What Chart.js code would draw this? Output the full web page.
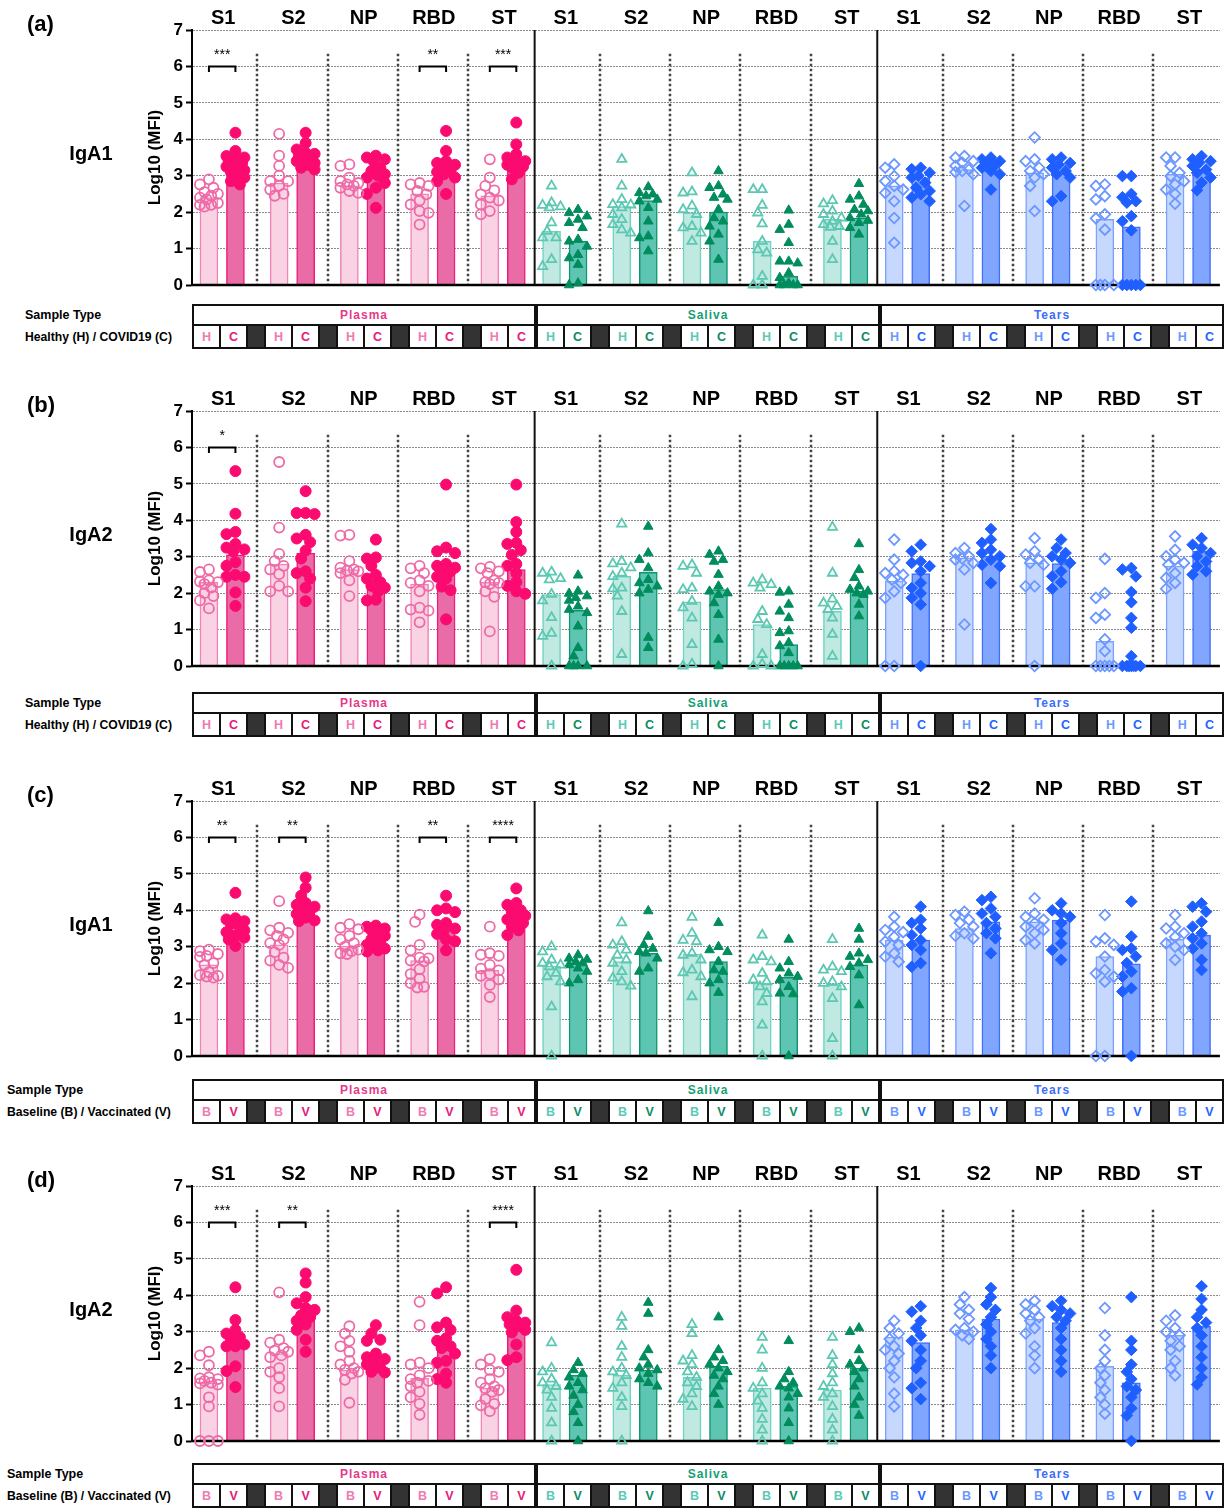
<!DOCTYPE html>
<html><head><meta charset="utf-8">
<script src="https://cdn.jsdelivr.net/npm/chart.js@4.4.1/dist/chart.umd.min.js"></script>
<style>
body{margin:0;background:#fff;width:1227px;height:1508px;position:relative;overflow:hidden;font-family:"Liberation Sans",Arial,sans-serif;}
.cv{position:absolute;left:0;}
.lbl{position:absolute;font-weight:bold;color:#000;white-space:nowrap;line-height:1;transform:translateY(-50%);}
.tbl{position:absolute;left:192px;width:1032px;height:45px;display:flex;}
.sec{flex:1 1 0;border:2px solid #111;display:flex;flex-direction:column;box-sizing:border-box;}
.hdr{height:18px;border-bottom:2px solid #111;display:flex;align-items:center;justify-content:center;font-weight:bold;font-size:12px;letter-spacing:1px;}
.row{flex:1;display:flex;}
.cell{display:flex;align-items:center;justify-content:center;font-weight:bold;font-size:12.5px;border-right:2px solid #111;flex-basis:0;}
.cell:last-child{border-right:none}
.dark{background:#333;}
</style></head>
<body>
<script>
// ---------- DATA ----------
const categories = ['S1','S2','NP','RBD','ST'];
const sampleTypes = ['Plasma','Saliva','Tears'];

// Panel (a) IgA1, Healthy vs COVID19
const aPlasmaH = [[2.9,2.76,2.67,2.55,2.5,2.45,2.4,2.35,2.25,2.2,2.15,2.2],[4.15,3.55,3.27,3.0,2.85,2.85,2.72,2.62,2.5,2.45],[3.31,3.27,2.95,2.85,2.8,2.76,2.72,2.67,2.58,2.53],[2.8,2.76,2.72,2.58,2.49,2.32,2.21,2.03,1.98,1.66],[3.45,2.95,2.72,2.6,2.49,2.4,2.32,2.21,2.03,1.94]];
const aPlasmaC = [[4.18,3.68,3.54,3.5,3.45,3.4,3.3,3.22,3.1,3.05,2.95,2.85,2.76,3.35,3.25,3.15],[4.18,3.9,3.72,3.63,3.55,3.5,3.45,3.4,3.3,3.22,3.17,3.6,3.35],[3.55,3.5,3.45,3.4,3.22,3.13,3.04,2.95,2.8,2.67,2.5,2.12,3.0],[4.23,3.68,3.4,3.3,3.22,3.13,3.04,2.95,2.85,2.5,3.35,3.1],[4.46,3.86,3.59,3.5,3.4,3.3,3.22,3.08,2.9,3.35,3.25]];
const aSalivaH = [[2.72,2.26,2.19,2.15,2.12,1.71,1.48,1.3,1.3,0.7,0.51],[3.45,2.72,2.35,2.21,2.2,2.12,1.94,1.8,1.66,1.52,1.43],[3.08,2.56,2.53,2.17,2.07,1.94,1.61,1.57,1.43,1.2],[2.62,2.62,2.19,1.98,1.68,1.2,0.97,0.88,0.24,0,0],[2.23,2.32,2.03,1.94,1.84,1.75,1.66,1.61,1.59,1.2,0.7]];
const aSalivaC = [[2.07,1.98,1.89,1.8,1.71,1.57,1.25,1.2,1.06,0.83,0.74,0.56,0.05,0],[2.69,2.53,2.49,2.44,2.35,2.3,2.12,1.75,1.34,1.29,0.93],[3.13,2.72,2.67,2.49,2.4,2.35,2.07,1.84,1.75,1.61,1.39,1.2,0.7],[2.05,1.66,1.52,1.16,0.65,0.65,0.6,0.33,0.2,0.05,0,0,0,0],[2.78,2.44,2.35,2.21,2.07,2.03,1.94,1.84,1.77,1.71,1.57,1.39]];
const aTearsH = [[3.31,3.22,2.99,2.85,2.72,2.62,2.53,2.3,1.84,1.16],[3.5,3.54,3.4,3.36,3.27,3.17,3.13,3.1,3.04,2.17],[4.05,3.45,3.4,3.22,3.13,3.04,2.95,2.72,2.03],[2.76,2.72,2.44,2.35,1.94,1.83,1.52,0,0,0,0],[3.5,3.5,3.27,3.08,2.99,2.85,2.76,2.62,2.5,2.23]];
const aTearsC = [[3.22,3.18,3.08,2.95,2.81,2.67,2.58,2.49,2.4,2.3,3.0],[3.5,3.45,3.4,3.3,3.22,3.13,3.04,2.62,3.35],[3.5,3.45,3.3,3.22,3.13,3.04,2.95,2.44,2.3,3.35],[2.99,2.99,2.5,2.41,2.3,2.26,1.89,1.75,1.5,0,0,0,0,0],[3.54,3.45,3.36,3.27,3.17,3.08,2.95,2.81,2.6,3.4]];
const aPlasmaHBar = [2.4,2.8,2.72,2.5,2.45], aPlasmaCBar = [3.25,3.5,2.95,3.2,3.3];
const aSalivaHBar = [1.47,2.15,1.98,1.2,1.8], aSalivaCBar = [1.2,2.32,2.0,0.24,1.84];
const aTearsHBar = [2.72,3.17,3.08,1.8,3.04], aTearsCBar = [2.95,3.28,3.08,1.6,3.17];
const aSig = ['***','','','**','***'];

// Panel (b) IgA2, Healthy vs COVID19
const bPlasmaH = [[2.65,2.58,2.35,2.3,2.32,2.25,2.15,2.0,1.92,1.8,1.58],[5.6,3.8,3.08,2.88,2.75,2.65,2.52,2.2,2.05,2.05],[3.6,3.58,2.88,2.7,2.65,2.62,2.6,2.55,2.35,1.92],[2.75,2.68,2.55,2.35,2.28,2.2,2.05,1.6,1.55,1.52,1.2],[2.72,2.68,2.6,2.55,2.35,2.3,2.28,2.25,2.05,1.9,0.95]];
const bPlasmaC = [[5.35,4.18,3.68,3.62,3.35,3.25,3.2,3.15,2.85,2.75,2.5,2.45,2.45,2.02,1.65],[4.8,4.2,4.2,4.17,3.6,3.5,3.4,3.17,2.95,2.6,2.55,2.4,2.15,1.78],[3.47,2.98,2.95,2.75,2.5,2.4,2.3,2.2,2.15,2.05,1.82,1.8],[4.98,3.25,3.15,3.1,2.8,2.75,2.7,2.65,2.6,2.45,2.4,2.18,2.08,1.28],[4.98,3.95,3.68,3.38,3.35,3.18,3.05,2.8,2.75,2.55,2.3,2.2,2.05,1.98]];
const bSalivaH = [[2.58,2.55,2.4,2.37,1.97,1.79,1.33,0.9,0.82,0],[3.9,2.87,2.81,2.7,2.55,2.46,2.14,2.12,1.92,1.5,0.32],[2.78,2.74,2.55,2.14,2.1,1.78,1.6,1.32,0.59,0.05,0],[2.37,2.28,2.24,2.14,1.5,1.28,1.14,0.32,0.05,0,0],[3.81,2.55,1.84,1.73,1.64,1.55,1.32,0.87,0.27]];
const bSalivaC = [[2.49,2.05,1.99,1.92,1.87,1.8,1.64,1.55,1.46,1.09,0.5,0.27,0,0,0,0],[3.83,3.1,2.92,2.69,2.37,2.28,2.19,2.1,2.0,0.78,0.5],[3.15,3.06,2.92,2.87,2.51,2.19,2.05,2.0,1.96,1.73,1.41,0.73,0],[2.05,2.02,1.69,1.5,1.32,0.96,0.91,0.64,0.55,0.36,0,0,0,0,0],[3.35,2.64,2.42,2.19,2.1,2.05,2.0,1.96,1.69,1.37]];
const bTearsH = [[3.47,2.92,2.6,2.55,2.5,2.37,2.28,2.05,1.87,0,0],[3.24,3.1,3.01,2.92,2.83,2.65,1.14,2.95],[3.51,3.15,3.06,2.92,2.83,2.78,2.19,2.19,0],[2.94,2.0,1.87,1.41,1.32,0.73,0.41,0,0,0,0,0],[3.56,3.19,3.01,2.92,2.83,2.78,2.55,2.42,2.28,2.12]];
const bTearsC = [[3.33,3.15,2.87,2.83,2.74,2.6,2.28,2.14,2.0,1.87,1.69,0],[3.76,3.47,3.38,3.19,3.1,3.01,2.92,2.78,2.74,2.28],[3.47,3.24,3.1,3.01,2.92,2.83,2.6,2.46,2.3,2.12],[2.69,2.65,2.46,2.03,1.75,1.32,1.05,0.27,0,0,0,0,0,0,0],[3.51,3.33,3.24,3.1,3.01,2.87,2.74,2.6,2.51]];
const bPlasmaHBar = [2.3,2.8,2.65,2.25,2.3], bPlasmaCBar = [3.05,3.1,2.35,2.6,2.65];
const bSalivaHBar = [1.96,2.46,1.76,1.14,1.5], bSalivaCBar = [1.53,2.57,2.1,0.59,2.05];
const bTearsHBar = [2.33,2.97,2.83,0.68,2.74], bTearsCBar = [2.54,3.01,2.81,0.11,3.15];
const bSig = ['*','','','',''];

// Panel (c) IgA1, Baseline vs Vaccinated
const cPlasmaH = [[2.92,2.88,2.8,2.75,2.72,2.55,2.5,2.3,2.22,2.18,2.2,2.15],[4.25,3.52,3.45,3.38,3.3,3.2,3.1,3.05,2.85,2.7,2.62,2.5,2.42],[3.62,3.52,3.48,3.3,3.2,3.1,3.0,2.92,2.88,2.82,2.8],[3.88,3.68,3.05,2.9,2.7,2.68,2.62,2.6,2.38,2.25,2.12,2.0,1.9,1.88],[3.55,2.82,2.78,2.75,2.5,2.4,2.35,2.25,2.2,2.1,1.95,1.62]];
const cPlasmaC = [[4.48,3.78,3.75,3.7,3.62,3.6,3.45,3.4,3.3,3.25,3.2,3.02],[4.9,4.62,4.4,4.2,4.15,4.1,4.05,4.0,3.9,3.8,3.72,3.7],[3.58,3.55,3.5,3.45,3.4,3.3,3.2,3.1,3.05,3.0,2.95,2.9,2.87],[4.4,4.05,4.0,3.95,3.65,3.6,3.5,3.45,3.35,3.2,3.15,2.9],[4.6,4.2,4.15,4.0,3.95,3.85,3.8,3.75,3.65,3.55,3.45,3.32]];
const cSalivaH = [[3.0,2.86,2.64,2.55,2.5,2.45,2.27,2.18,2.04,1.35,0],[3.66,3.14,3.05,2.91,2.77,2.64,2.55,2.32,2.14,2.04,1.92],[3.81,3.37,3.18,3.14,2.82,2.77,2.64,2.36,2.29,2.18,1.63],[3.32,2.73,2.64,2.59,2.27,2.09,2.04,1.9,1.72,1.49,0.85,0],[3.2,2.45,2.36,2.32,2.04,2.0,1.9,1.58,0.48,0]];
const cSalivaC = [[2.77,2.68,2.65,2.59,2.5,2.41,2.32,2.09,2.0,2.55],[3.98,3.28,3.05,2.95,2.86,2.82,2.68,2.41,2.32],[3.66,3.0,2.91,2.86,2.59,2.36,2.32,2.09,2.0,1.74],[3.2,2.59,2.41,2.27,2.18,2.09,1.9,1.72,1.7,0],[3.5,3.2,2.82,2.73,2.64,2.55,2.45,2.22,1.4]];
const cTearsH = [[3.82,3.55,3.46,3.4,3.27,3.14,3.05,2.82,2.73,2.59],[3.96,3.87,3.74,3.65,3.55,3.37,3.23,3.3],[4.33,3.91,3.82,3.74,3.65,3.55,3.46,3.37,3.18,3.09],[3.87,3.23,3.14,3.05,2.73,2.36,2.27,2.18,2.04,0,0],[3.87,3.55,3.5,3.37,3.27,3.09,3.0,2.91,2.64]];
const cTearsC = [[4.1,3.74,3.65,3.5,3.32,3.18,3.05,2.91,2.55,2.45],[4.37,4.28,4.05,3.91,3.82,3.65,3.5,3.37,3.23,2.82],[4.19,4.0,3.91,3.82,3.65,3.37,3.09,2.91,2.64],[4.24,3.28,2.95,2.91,2.73,2.55,2.32,2.18,1.86,1.77,0],[4.19,4.1,3.96,3.69,3.55,3.37,3.23,3.09,2.95,2.64,2.36]];
const cPlasmaHBar = [2.5,3.05,3.02,2.62,2.35], cPlasmaCBar = [3.45,4.0,3.2,3.5,3.8];
const cSalivaHBar = [2.47,2.59,2.8,2.0,1.95], cSalivaCBar = [2.54,2.82,2.59,2.16,2.5];
const cTearsHBar = [3.18,3.5,3.68,2.73,3.2], cTearsCBar = [3.18,3.68,3.73,2.53,3.32];
const cSig = ['**','**','','**','****'];

// Panel (d) IgA2, Baseline vs Vaccinated
const dPlasmaH = [[2.45,2.35,2.08,1.75,1.72,1.7,1.65,1.6,1.58,1.55,1.2,0.95,0,0,0],[4.08,2.78,2.7,2.55,2.48,2.45,2.35,2.3,2.0,1.9,1.75,1.45,0.95],[3.15,2.95,2.75,2.6,2.45,2.2,2.1,2.0,1.95,1.9,1.85,1.68,1.05],[3.82,3.18,2.15,2.1,2.0,1.8,1.7,1.65,1.6,1.5,1.35,1.2,1.02,0.72],[2.25,2.1,1.95,1.9,1.7,1.6,1.5,1.45,1.4,1.35,1.15,1.02,0.98,0.82]];
const dPlasmaC = [[4.22,3.32,3.05,2.95,2.85,2.8,2.65,2.6,2.6,2.05,1.92,1.48],[4.6,4.35,3.95,3.78,3.65,3.6,3.45,3.4,3.3,3.2,3.05,2.78,2.45],[3.18,2.95,2.78,2.75,2.4,2.3,2.25,2.2,2.1,2.0,1.9,1.88],[4.22,4.05,3.25,3.12,3.05,2.82,2.75,2.6,2.55,2.4,2.2,2.15,1.85,1.7,1.6],[4.7,3.58,3.4,3.3,3.25,3.2,3.15,3.05,2.98,2.65,2.3,2.22]];
const dSalivaH = [[2.7,2.0,1.9,1.7,1.6,1.5,1.4,1.2,0.9,0.5,0],[3.4,3.15,2.6,2.3,2.0,1.9,1.8,1.6,1.45,1.2,0.95,0],[3.2,2.95,2.35,2.2,2.1,1.9,1.75,1.6,1.5,1.3,1.15,0.95],[2.85,2.5,2.0,1.6,1.45,1.3,1.1,0.9,0.6,0.3,0],[2.85,2.35,2.1,1.85,1.6,1.5,1.3,1.2,0.95,0.6,0.3,0]];
const dSalivaC = [[2.15,1.95,1.85,1.75,1.6,1.5,1.4,1.25,1.0,0.8,0.5,0],[3.8,3.5,2.5,2.3,2.1,2.0,1.95,1.85,1.7,1.6,1.5],[3.4,2.5,2.3,2.2,2.1,2.0,1.9,1.8,1.7,1.5,1.3,1.0],[2.75,1.9,1.7,1.6,1.5,1.45,1.3,1.2,0.9,0.5,0],[3.1,3.0,2.5,2.2,2.1,2.0,1.9,1.7,1.5,1.2,1.0,0.7]];
const dTearsH = [[3.3,3.1,2.95,2.8,2.6,2.5,2.4,2.2,2.0,1.75,1.3,0.95],[3.95,3.75,3.6,3.5,3.35,3.1,3.05,3.0,2.9,2.8],[3.85,3.75,3.6,3.5,3.4,3.3,3.1,2.95,2.6,2.35,2.0],[3.65,2.9,2.5,2.2,2.0,1.8,1.6,1.4,1.2,1.0,0.75],[3.45,3.3,3.1,3.0,2.9,2.75,2.6,2.5,2.2,2.0,1.8]];
const dTearsC = [[3.7,3.55,3.3,3.1,2.9,2.75,2.5,2.2,2.0,1.6,1.45,1.15],[4.2,3.95,3.75,3.6,3.4,3.2,3.0,2.8,2.6,2.35,2.0],[3.85,3.7,3.6,3.5,3.4,3.3,3.1,2.8,2.5,2.2,1.9],[3.95,2.75,2.5,2.1,1.9,1.7,1.5,1.4,1.2,0.9,0.7,0],[4.25,3.9,3.6,3.4,3.25,3.1,2.9,2.6,2.3,2.0,1.75,1.55]];
const dPlasmaHBar = [1.6,2.4,1.95,1.72,1.45], dPlasmaCBar = [2.85,3.45,2.25,2.6,3.2];
const dSalivaHBar = [1.55,1.8,1.75,1.45,1.4], dSalivaCBar = [1.8,1.95,2.05,1.5,2.0];
const dTearsHBar = [2.85,3.05,3.35,2.05,2.9], dTearsCBar = [2.7,3.35,3.25,1.6,3.15];
const dSig = ['***','**','','','****'];

// ---------- LAYOUT / STYLE ----------
const SEC = 344, OFF_H = 17, GP = 70.5, HC = 26.6, SEP0 = 65.6, YPX = 255/7;
function xPos(s,k,j){ return s*SEC + OFF_H + k*GP + j*HC; }

const secStyle = [
  {hdr:'#e8388a', txt:['#f07ab2','#e5197b'],
   bar:[{bg:'#f9d3e4',bd:'#f184b6'},{bg:'#e96ca6',bd:'#ee1d7a'}],
   pt:[{style:'circle',r:5,bg:'rgba(0,0,0,0)',bd:'#ee6aa7',bw:1.8},{style:'circle',r:5.5,bg:'#fb0a70',bd:'#fb0a70',bw:1}]},
  {hdr:'#13a074', txt:['#5dcab5','#0b8c5e'],
   bar:[{bg:'#bfe9e1',bd:'#6fd3c1'},{bg:'#5ec5b2',bd:'#0f9570'}],
   pt:[{style:'triangle',r:5.3,bg:'rgba(0,0,0,0)',bd:'#5cc8b2',bw:1.8},{style:'triangle',r:5.5,bg:'#008c5c',bd:'#008c5c',bw:1}]},
  {hdr:'#3b6ef7', txt:['#6d98ff','#2563ff'],
   bar:[{bg:'#c7d8ff',bd:'#7ca2ff'},{bg:'#80a6ff',bd:'#3f6fff'}],
   pt:[{style:'rectRot',r:5.3,bg:'rgba(0,0,0,0)',bd:'#6c97ff',bw:1.8},{style:'rectRot',r:5.8,bg:'#1f5fff',bd:'#1f5fff',bw:1}]}
];

const panels = [
  {letter:'(a)', ig:'IgA1', top:30, tableTop:304, lx:25, rowLabel:'Healthy (H) / COVID19 (C)', codes:['H','C'], sig:aSig,
   pts:[[aPlasmaH,aPlasmaC],[aSalivaH,aSalivaC],[aTearsH,aTearsC]], bars:[[aPlasmaHBar,aPlasmaCBar],[aSalivaHBar,aSalivaCBar],[aTearsHBar,aTearsCBar]]},
  {letter:'(b)', ig:'IgA2', top:411, tableTop:692, lx:25, rowLabel:'Healthy (H) / COVID19 (C)', codes:['H','C'], sig:bSig,
   pts:[[bPlasmaH,bPlasmaC],[bSalivaH,bSalivaC],[bTearsH,bTearsC]], bars:[[bPlasmaHBar,bPlasmaCBar],[bSalivaHBar,bSalivaCBar],[bTearsHBar,bTearsCBar]]},
  {letter:'(c)', ig:'IgA1', top:801, tableTop:1079, lx:7, rowLabel:'Baseline (B) / Vaccinated (V)', codes:['B','V'], sig:cSig,
   pts:[[cPlasmaH,cPlasmaC],[cSalivaH,cSalivaC],[cTearsH,cTearsC]], bars:[[cPlasmaHBar,cPlasmaCBar],[cSalivaHBar,cSalivaCBar],[cTearsHBar,cTearsCBar]]},
  {letter:'(d)', ig:'IgA2', top:1186, tableTop:1463, lx:7, rowLabel:'Baseline (B) / Vaccinated (V)', codes:['B','V'], sig:dSig,
   pts:[[dPlasmaH,dPlasmaC],[dSalivaH,dSalivaC],[dTearsH,dTearsC]], bars:[[dPlasmaHBar,dPlasmaCBar],[dSalivaHBar,dSalivaCBar],[dTearsHBar,dTearsCBar]]}
];

// deterministic swarm spread of points inside a bar
function swarm(vals, cx){
  const cands=[0,-4.5,4.5,-9,9,-2.25,2.25,-6.75,6.75];
  const placed=[];
  vals.slice().sort((a,b)=>b-a).forEach(v=>{
    let best=0,bestD=-1;
    for(const c of cands){
      let minD=Infinity;
      for(const q of placed){ const d=Math.hypot(c-q.dx,(v-q.v)*YPX); if(d<minD)minD=d; }
      if(minD>=8.5){best=c;bestD=minD;break;}
      if(minD>bestD){bestD=minD;best=c;}
    }
    placed.push({v,dx:best});
  });
  return placed.map(q=>({x:cx+q.dx,y:q.v}));
}

const decor = {
  id:'decor',
  beforeDatasetsDraw(chart){
    const {ctx, chartArea:ca, scales:{x,y}} = chart;
    ctx.save();
    ctx.strokeStyle='#444'; ctx.lineWidth=2.5; ctx.setLineDash([2.5,2.5]);
    for(let s=0;s<3;s++) for(let k=0;k<4;k++){
      const px=Math.round(x.getPixelForValue(s*SEC+SEP0+k*GP));
      ctx.beginPath(); ctx.moveTo(px,y.getPixelForValue(6.35)); ctx.lineTo(px,ca.bottom); ctx.stroke();
    }
    ctx.setLineDash([]); ctx.strokeStyle='#111'; ctx.lineWidth=2;
    for(let s=1;s<3;s++){
      const px=x.getPixelForValue(s*SEC);
      ctx.beginPath(); ctx.moveTo(px,ca.top); ctx.lineTo(px,ca.bottom); ctx.stroke();
    }
    ctx.restore();
  },
  afterDatasetDraw(chart,args){
    if(args.meta.type!=='bar') return;
    const {ctx, chartArea:ca, scales:{y}} = chart;
    ctx.save(); ctx.strokeStyle='#000'; ctx.lineWidth=2.5;
    const py=y.getPixelForValue(0);
    ctx.beginPath(); ctx.moveTo(ca.left-1,py); ctx.lineTo(ca.right,py); ctx.stroke();
    ctx.restore();
  },
  afterDraw(chart){
    const {ctx, chartArea:ca, scales:{x,y}} = chart;
    const sig = chart.options.plugins.decor.sig;
    ctx.save();
    ctx.fillStyle='#000'; ctx.font='bold 20px "Liberation Sans", Arial, sans-serif';
    ctx.textAlign='center'; ctx.textBaseline='alphabetic';
    for(let s=0;s<3;s++) for(let k=0;k<5;k++){
      const cx=x.getPixelForValue(xPos(s,k,0)+HC/2)+1;
      ctx.fillText(categories[k],cx,ca.top-6);
    }
    // significance brackets (plasma)
    ctx.strokeStyle='#000'; ctx.lineWidth=2;
    ctx.font='14px "Liberation Sans", Arial, sans-serif';
    sig.forEach((t,k)=>{
      if(!t) return;
      const x1=x.getPixelForValue(xPos(0,k,0)), x2=x.getPixelForValue(xPos(0,k,1));
      const yb=y.getPixelForValue(6), yl=y.getPixelForValue(5.85);
      ctx.beginPath(); ctx.moveTo(x1,yl); ctx.lineTo(x1,yb); ctx.lineTo(x2,yb); ctx.lineTo(x2,yl); ctx.stroke();
      ctx.fillText(t,(x1+x2)/2,y.getPixelForValue(6.42)+8);
    });
    ctx.restore();
  }
};

Chart.defaults.font.family='"Liberation Sans", Arial, sans-serif';

panels.forEach(p=>{
  const cv=document.createElement('canvas');
  cv.width=1227; cv.height=300; cv.className='cv'; cv.style.top=(p.top-30)+'px';
  document.body.appendChild(cv);
  const barData=[], barBg=[], barBd=[];
  for(let s=0;s<3;s++) for(let k=0;k<5;k++) for(let j=0;j<2;j++){
    barData.push({x:xPos(s,k,j), y:p.bars[s][j][k]});
    barBg.push(secStyle[s].bar[j].bg); barBd.push(secStyle[s].bar[j].bd);
  }
  const datasets=[{type:'bar', data:barData, backgroundColor:barBg, borderColor:barBd, borderWidth:1.5, barThickness:18, order:2}];
  for(let s=0;s<3;s++) for(let j=0;j<2;j++){
    const st=secStyle[s].pt[j];
    let d=[];
    for(let k=0;k<5;k++) d=d.concat(swarm(p.pts[s][j][k], xPos(s,k,j)));
    datasets.push({type:'scatter', data:d, showLine:false, order:1, clip:false,
      pointStyle:st.style, pointRadius:st.r, pointBorderWidth:st.bw,
      pointBackgroundColor:st.bg, pointBorderColor:st.bd, backgroundColor:st.bg, borderColor:st.bd});
  }
  new Chart(cv,{
    data:{datasets},
    plugins:[decor],
    options:{
      responsive:false, animation:false, devicePixelRatio:1,
      layout:{padding:{left:140,right:3,top:30,bottom:15}},
      plugins:{legend:{display:false}, tooltip:{enabled:false}, decor:{sig:p.sig}},
      scales:{
        x:{type:'linear', min:0, max:1032, display:false, offset:false},
        y:{type:'linear', min:0, max:7, position:'left',
          ticks:{stepSize:1, color:'#000', font:{weight:'bold', size:17}, padding:3},
          grid:{color:'#8a8a8a', lineWidth:1, tickColor:'#000', tickLength:6, tickWidth:2, drawTicks:true},
          border:{display:true, color:'#000', width:2, dash:[2,1]},
          title:{display:true, text:'Log10 (MFI)', color:'#000', font:{weight:'bold', size:17}, padding:{top:5,bottom:0}},
          afterFit(scale){ scale.width=52; }
        }
      }
    }
  });

  // text labels
  const L=document.createElement('div'); L.className='lbl'; L.style.cssText+=`left:27px;top:${p.top-6}px;font-size:22px;`; L.textContent=p.letter; document.body.appendChild(L);
  const G=document.createElement('div'); G.className='lbl'; G.style.cssText+=`left:91px;top:${p.top+123}px;font-size:20px;transform:translate(-50%,-50%);`; G.textContent=p.ig; document.body.appendChild(G);
  const S1=document.createElement('div'); S1.className='lbl'; S1.style.cssText+=`left:${p.lx}px;top:${p.tableTop+11}px;font-size:12.5px;`; S1.textContent='Sample Type'; document.body.appendChild(S1);
  const S2=document.createElement('div'); S2.className='lbl'; S2.style.cssText+=`left:${p.lx}px;top:${p.tableTop+33}px;font-size:12.2px;`; S2.textContent=p.rowLabel; document.body.appendChild(S2);

  // table
  const T=document.createElement('div'); T.className='tbl'; T.style.top=p.tableTop+'px';
  sampleTypes.forEach((name,s)=>{
    const sec=document.createElement('div'); sec.className='sec';
    const h=document.createElement('div'); h.className='hdr'; h.style.color=secStyle[s].hdr; h.textContent=name; sec.appendChild(h);
    const r=document.createElement('div'); r.className='row';
    for(let k=0;k<5;k++){
      for(let j=0;j<2;j++){
        const c=document.createElement('div'); c.className='cell'; c.style.flexGrow=27; c.style.color=secStyle[s].txt[j]; c.textContent=p.codes[j]; r.appendChild(c);
      }
      if(k<4){ const dk=document.createElement('div'); dk.className='cell dark'; dk.style.flexGrow=17; r.appendChild(dk); }
    }
    sec.appendChild(r); T.appendChild(sec);
  });
  document.body.appendChild(T);
});
</script>
</body></html>
